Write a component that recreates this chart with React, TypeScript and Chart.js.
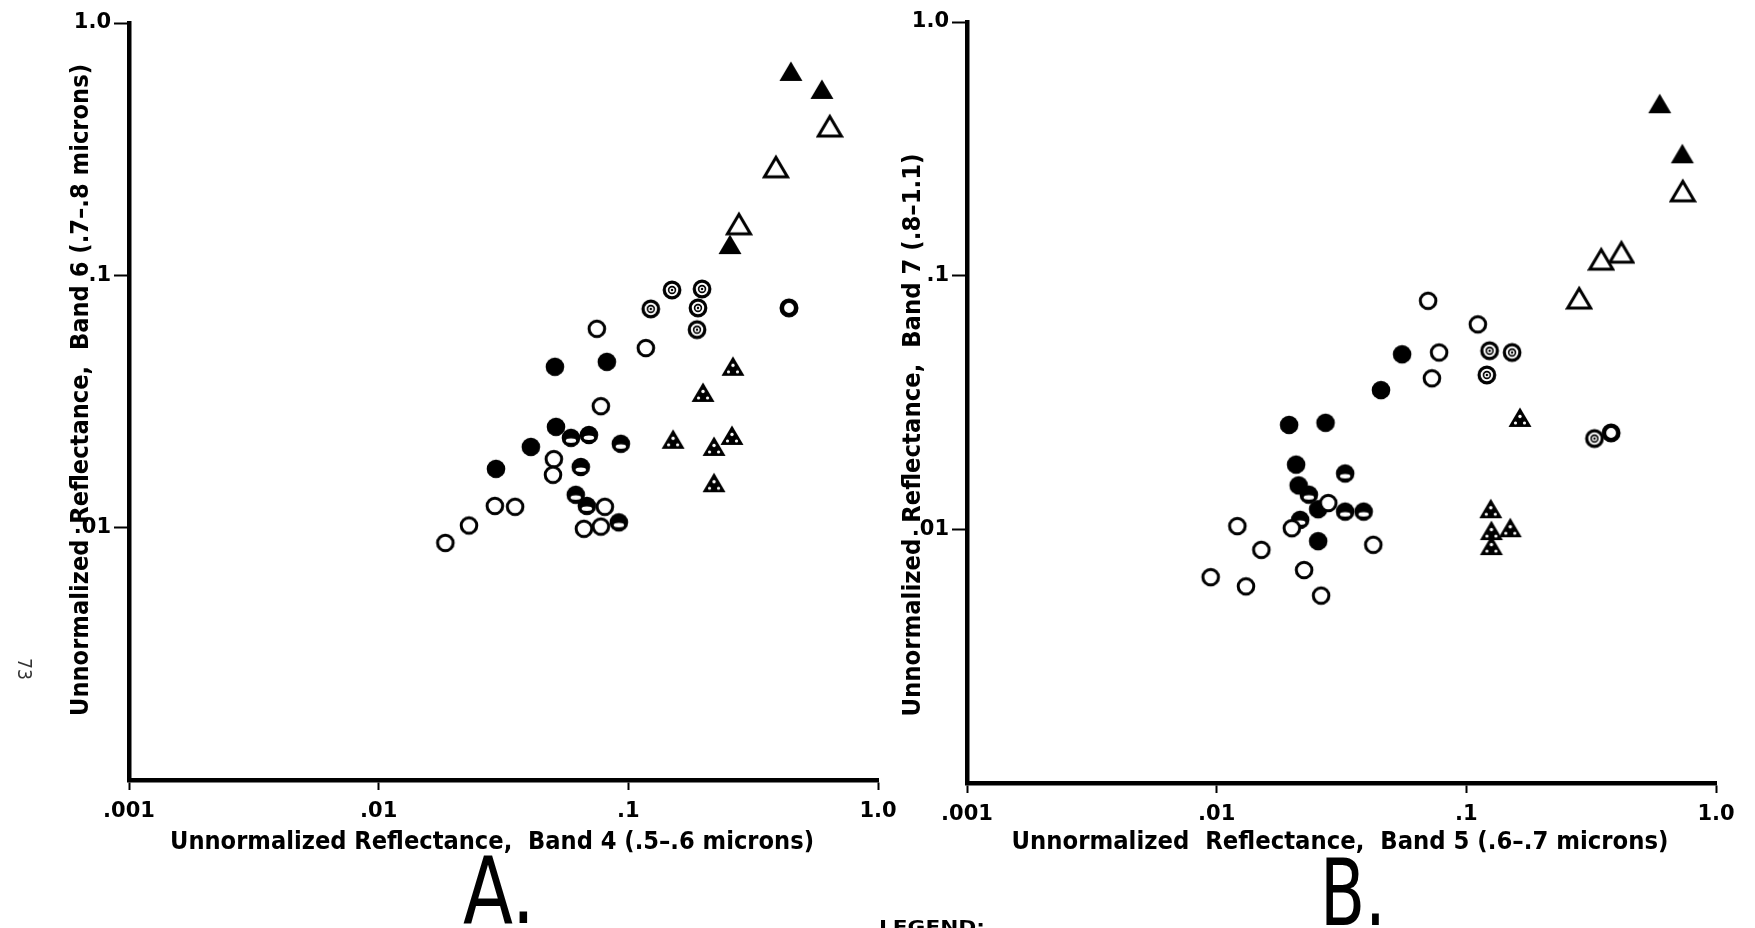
import React, { useEffect, useRef } from 'react';
import { Chart, registerables } from 'chart.js';

Chart.register(...registerables);

type Pair = [number, number];

// ---------- Panel A: Band 4 (x) vs Band 6 (y) ----------
const aOpenCircle: Pair[] = [
  [0.0748, 0.0614], [0.1175, 0.0515], [0.0776, 0.0303], [0.0503, 0.0187],
  [0.0499, 0.0162], [0.0805, 0.0121], [0.0664, 0.0099], [0.0776, 0.0101],
  [0.0292, 0.0122], [0.0352, 0.0121], [0.023, 0.0102], [0.0185, 0.0087],
];
const aThickRing: Pair[] = [[0.44, 0.0743]];
const aFilledCircle: Pair[] = [
  [0.0508, 0.0434], [0.082, 0.0454], [0.0513, 0.0251], [0.0407, 0.0209], [0.0295, 0.0171],
];
const aHalfCircle: Pair[] = [
  [0.0589, 0.0227], [0.0695, 0.0233], [0.0933, 0.0215], [0.0645, 0.0174],
  [0.0616, 0.0135], [0.0682, 0.0122], [0.0916, 0.0105],
];
const aDotCircle: Pair[] = [
  [0.1496, 0.0875], [0.1973, 0.0883], [0.123, 0.0736], [0.1901, 0.0743], [0.1884, 0.0609],
];
const aDotTriangle: Pair[] = [
  [0.2625, 0.0434], [0.1991, 0.0342], [0.1511, 0.0223], [0.2204, 0.0209],
  [0.26, 0.0231], [0.2204, 0.015],
];
const aFilledTriangle: Pair[] = [[0.448, 0.64], [0.596, 0.543], [0.2553, 0.1318]];
const aOpenTriangle: Pair[] = [[0.641, 0.387], [0.39, 0.2667], [0.2773, 0.1585]];

// ---------- Panel B: Band 5 (x) vs Band 7 (y) ----------
const bOpenCircle: Pair[] = [
  [0.0703, 0.0796], [0.1112, 0.0643], [0.0778, 0.0498], [0.0728, 0.0394],
  [0.028, 0.0127], [0.02, 0.0101], [0.0121, 0.0103], [0.0151, 0.0083],
  [0.00946, 0.00648], [0.0131, 0.00596], [0.0224, 0.00691], [0.0262, 0.00548],
  [0.0424, 0.00869],
];
const bThickRing: Pair[] = [[0.38, 0.024]];
const bDotCircle: Pair[] = [[0.1239, 0.0506], [0.1525, 0.0498], [0.1208, 0.0406], [0.326, 0.0228]];
const bFilledCircle: Pair[] = [
  [0.0553, 0.049], [0.0455, 0.0354], [0.0195, 0.0258], [0.0273, 0.0263],
  [0.0208, 0.018], [0.0213, 0.0149], [0.0255, 0.012], [0.0255, 0.00898],
];
const bHalfCircle: Pair[] = [
  [0.0327, 0.0166], [0.0234, 0.0137], [0.0327, 0.01175], [0.0388, 0.01175], [0.0216, 0.0109],
];
const bDotTriangle: Pair[] = [
  [0.164, 0.0275], [0.1253, 0.012], [0.15, 0.0101], [0.126, 0.00984], [0.126, 0.00859],
];
const bFilledTriangle: Pair[] = [[0.595, 0.474], [0.733, 0.301]];
const bOpenTriangle: Pair[] = [[0.736, 0.214], [0.418, 0.1227], [0.347, 0.1151], [0.283, 0.0809]];

// ---------- Axis ticks ----------
const xTickValues = [0.001, 0.01, 0.1, 1];
const xTickLabels = ['.001', '.01', '.1', '1.0'];
const yTickValues = [0.01, 0.1, 1];
const yTickLabels = ['.01', '.1', '1.0'];

const titleA_x = 'Unnormalized Reflectance,  Band 4 (.5\u2013.6 microns)';
const titleA_y = 'Unnormalized  Reflectance,  Band 6 (.7\u2013.8 microns)';
const titleB_x = 'Unnormalized  Reflectance,  Band 5 (.6\u2013.7 microns)';
const titleB_y = 'Unnormalized  Reflectance,  Band 7 (.8\u20131.1)';

type Kind = 'open' | 'filled' | 'half' | 'dot' | 'ring' | 'openTri' | 'filledTri' | 'dotTri';

function makeMarker(kind: Kind): HTMLCanvasElement {
  const s = 28;
  const c = document.createElement('canvas');
  c.width = s;
  c.height = s;
  const g = c.getContext('2d')!;
  const cx = s / 2;
  const cy = s / 2;
  g.strokeStyle = '#000';
  g.fillStyle = '#000';
  const circle = (r: number) => {
    g.beginPath();
    g.arc(cx, cy, r, 0, Math.PI * 2);
  };
  const tri = () => {
    g.beginPath();
    g.moveTo(cx, cy - 10.5);
    g.lineTo(cx - 11.5, cy + 9);
    g.lineTo(cx + 11.5, cy + 9);
    g.closePath();
  };
  switch (kind) {
    case 'open':
      circle(7.8);
      g.fillStyle = '#fff';
      g.fill();
      g.lineWidth = 3;
      g.stroke();
      break;
    case 'filled':
      circle(9.3);
      g.fill();
      break;
    case 'half':
      circle(9.3);
      g.fill();
      g.fillStyle = '#fff';
      g.beginPath();
      g.ellipse(cx, cy + 2.8, 5.2, 2.2, 0, 0, Math.PI * 2);
      g.fill();
      break;
    case 'dot':
      circle(7.8);
      g.fillStyle = '#fff';
      g.fill();
      g.lineWidth = 3.2;
      g.stroke();
      circle(3.4);
      g.lineWidth = 1.6;
      g.stroke();
      g.fillStyle = '#000';
      circle(1.2);
      g.fill();
      break;
    case 'ring':
      circle(7.2);
      g.fillStyle = '#fff';
      g.fill();
      g.lineWidth = 4.6;
      g.stroke();
      break;
    case 'openTri':
      tri();
      g.fillStyle = '#fff';
      g.fill();
      g.lineWidth = 3;
      g.lineJoin = 'miter';
      g.stroke();
      break;
    case 'filledTri':
      tri();
      g.fill();
      break;
    case 'dotTri':
      tri();
      g.fill();
      g.fillStyle = '#fff';
      [[cx, cy - 1.5, 1.7], [cx - 4.5, cy + 5, 1.6], [cx + 4.5, cy + 5, 1.6]].forEach(([x, y, r]) => {
        g.beginPath();
        g.arc(x, y, r, 0, Math.PI * 2);
        g.fill();
      });
      break;
  }
  return c;
}

interface TextItem {
  text: string;
  x: number;
  y: number;
  width: number;
  font: string;
  rotate?: number;
  baseline?: CanvasTextBaseline;
  color?: string;
}

function textPlugin(items: TextItem[]) {
  return {
    id: 'figureText',
    afterDraw(chart: any) {
      const ctx: CanvasRenderingContext2D = chart.ctx;
      items.forEach((it) => {
        ctx.save();
        ctx.translate(it.x, it.y);
        if (it.rotate) ctx.rotate(it.rotate);
        ctx.font = it.font;
        const w = ctx.measureText(it.text).width;
        ctx.scale(it.width / w, 1);
        ctx.textAlign = 'center';
        ctx.textBaseline = it.baseline || 'middle';
        ctx.fillStyle = it.color || '#000';
        ctx.fillText(it.text, 0, 0);
        ctx.restore();
      });
    },
  };
}

const TICK_FONT = { family: 'DejaVu Sans', size: 21, weight: 'bold' as const };

function buildConfig(
  series: { data: Pair[]; kind: Kind }[],
  geom: { left: number; top: number; right: number; xHeight: number; yWidth: number },
  texts: TextItem[]
) {
  return {
    type: 'scatter' as const,
    data: {
      datasets: series.map((s) => ({
        data: s.data.map(([x, y]) => ({ x, y })),
        pointStyle: makeMarker(s.kind),
        pointRadius: 10,
        pointHoverRadius: 10,
        showLine: false,
      })),
    },
    options: {
      animation: false as const,
      responsive: false,
      maintainAspectRatio: false,
      devicePixelRatio: 1,
      events: [] as any[],
      layout: { padding: { left: geom.left, top: geom.top, right: geom.right, bottom: 0 } },
      plugins: { legend: { display: false }, tooltip: { enabled: false } },
      scales: {
        x: {
          type: 'logarithmic' as const,
          min: 0.001,
          max: 1,
          afterBuildTicks: (axis: any) => {
            axis.ticks = xTickValues.map((v) => ({ value: v }));
          },
          afterFit: (axis: any) => {
            axis.height = geom.xHeight;
          },
          ticks: {
            autoSkip: false,
            maxRotation: 0,
            color: '#000',
            padding: 9,
            font: TICK_FONT,
            callback: (v: any) => {
              const i = xTickValues.findIndex((t) => Math.abs(t - Number(v)) < 1e-9);
              return i >= 0 ? xTickLabels[i] : '';
            },
          },
          grid: {
            display: true,
            drawOnChartArea: false,
            drawTicks: true,
            tickLength: 10,
            tickWidth: 2,
            tickColor: '#000',
          },
          border: { display: true, width: 4.5, color: '#000' },
        },
        y: {
          type: 'logarithmic' as const,
          min: 0.001,
          max: 1,
          afterBuildTicks: (axis: any) => {
            axis.ticks = yTickValues.map((v) => ({ value: v }));
          },
          afterFit: (axis: any) => {
            axis.width = geom.yWidth;
          },
          ticks: {
            autoSkip: false,
            color: '#000',
            padding: 3,
            font: TICK_FONT,
            callback: (v: any) => {
              const i = yTickValues.findIndex((t) => Math.abs(t - Number(v)) < 1e-9);
              return i >= 0 ? yTickLabels[i] : '';
            },
          },
          grid: {
            display: true,
            drawOnChartArea: false,
            drawTicks: true,
            tickLength: 15,
            tickWidth: 2,
            tickColor: '#000',
          },
          border: { display: true, width: 4.5, color: '#000' },
        },
      },
    },
    plugins: [textPlugin(texts)],
  };
}

const TITLE_FONT = 'bold 25px "DejaVu Sans"';
const BIG_FONT = '92px "DejaVu Sans"';

export default function App() {
  const refA = useRef<HTMLCanvasElement>(null);
  const refB = useRef<HTMLCanvasElement>(null);

  useEffect(() => {
    const chartA = new Chart(
      refA.current!,
      buildConfig(
        [
          { data: aOpenCircle, kind: 'open' },
          { data: aThickRing, kind: 'ring' },
          { data: aFilledCircle, kind: 'filled' },
          { data: aHalfCircle, kind: 'half' },
          { data: aDotCircle, kind: 'dot' },
          { data: aDotTriangle, kind: 'dotTri' },
          { data: aFilledTriangle, kind: 'filledTri' },
          { data: aOpenTriangle, kind: 'openTri' },
        ],
        { left: 0, top: 23, right: 42, xHeight: 148, yWidth: 129 },
        [
          { text: titleA_y, x: 81, y: 390, width: 652, font: TITLE_FONT, rotate: -Math.PI / 2 },
          { text: titleA_x, x: 492, y: 842, width: 644, font: TITLE_FONT },
          { text: 'A.', x: 499, y: 923, width: 72, font: BIG_FONT, baseline: 'alphabetic' },
          { text: '73', x: 23, y: 669, width: 22, font: '19px "DejaVu Sans"', rotate: Math.PI / 2, color: '#333' },
        ]
      ) as any
    );
    const chartB = new Chart(
      refB.current!,
      buildConfig(
        [
          { data: bOpenCircle, kind: 'open' },
          { data: bThickRing, kind: 'ring' },
          { data: bFilledCircle, kind: 'filled' },
          { data: bHalfCircle, kind: 'half' },
          { data: bDotCircle, kind: 'dot' },
          { data: bDotTriangle, kind: 'dotTri' },
          { data: bFilledTriangle, kind: 'filledTri' },
          { data: bOpenTriangle, kind: 'openTri' },
        ],
        { left: 0, top: 22, right: 39, xHeight: 145, yWidth: 127 },
        [
          { text: titleB_y, x: 73, y: 435, width: 563, font: TITLE_FONT, rotate: -Math.PI / 2 },
          { text: titleB_x, x: 500, y: 842, width: 657, font: TITLE_FONT },
          { text: 'B.', x: 513, y: 925, width: 66, font: BIG_FONT, baseline: 'alphabetic' },
          { text: 'LEGEND:', x: 92, y: 933, width: 106, font: 'bold 18px "DejaVu Sans"', baseline: 'alphabetic' },
        ]
      ) as any
    );
    return () => {
      chartA.destroy();
      chartB.destroy();
    };
  }, []);

  return (
    <div
      style={{
        position: 'absolute',
        left: 0,
        top: 0,
        width: 1755,
        height: 928,
        background: '#fff',
        overflow: 'hidden',
      }}
    >
      <canvas
        ref={refA}
        width={920}
        height={928}
        style={{ position: 'absolute', left: 0, top: 0, width: 920, height: 928 }}
      />
      <canvas
        ref={refB}
        width={915}
        height={928}
        style={{ position: 'absolute', left: 840, top: 0, width: 915, height: 928 }}
      />
    </div>
  );
}
